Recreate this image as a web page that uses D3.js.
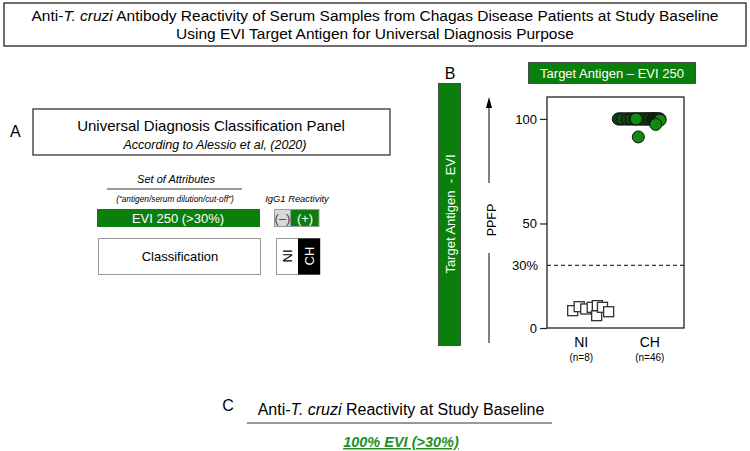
<!DOCTYPE html>
<html>
<head>
<meta charset="utf-8">
<script src="https://cdn.jsdelivr.net/npm/d3@7"></script>
<style>
  body { margin: 0; background: #fff; }
  svg { display: block; font-family: "Liberation Sans", Arial, sans-serif; }
  text { white-space: pre; }
</style>
</head>
<body>
<div id="chart"></div>
<script>
const categories = ["NI", "CH"];
const groupSizes = ["(n=8)", "(n=46)"];
const yTicks = [0, 50, 100];
const cutOff = 30;

// NI (non infected) – PPFP values and horizontal scatter (offset from category centre)
const niValues = [8.3, 10.2, 9.1, 9.9, 5.9, 10.7, 9.9, 7.8];
const niOffsets = [-0.125, -0.03, 0.065, 0.16, 0.225, 0.235, 0.31, 0.40];

// CH (Chagas) – PPFP values and scatter
const chValues = [
  100, 100, 100, 100, 100, 100, 100, 100, 100, 100, 100, 100, 100, 100, 100, 100,
  100, 100, 100, 100, 100, 100, 100, 100, 100, 100, 100, 100, 100, 100, 100, 100,
  100, 100, 99.6, 100, 99.8, 100, 99.5, 100, 99.7, 100, 99.4, 100, 91.4, 97.4
];
const chOffsets = [
  -0.46, -0.44, -0.42, -0.40, -0.38, -0.35, -0.33, -0.31, -0.29, -0.27, -0.25, -0.23,
  -0.21, -0.19, -0.17, -0.15, -0.14, -0.12, -0.10, -0.09, -0.07, -0.06, -0.04, -0.03,
  -0.01, 0.00, 0.01, 0.03, 0.04, 0.05, 0.06, 0.07, 0.08, 0.09, 0.10, 0.11,
  0.12, 0.12, 0.13, 0.14, 0.14, 0.15, 0.15, -0.20, -0.167, 0.087
];

const titleLines = [
  [["Anti-", "normal"], ["T. cruzi", "italic"], [" Antibody Reactivity of Serum Samples from Chagas Disease Patients at Study Baseline", "normal"]],
  [["Using EVI Target Antigen for Universal Diagnosis Purpose", "normal"]]
];

const green = "#0b7f0b";
const W = 750, H = 451;

const svg = d3.select("#chart").append("svg")
  .attr("width", W)
  .attr("height", H)
  .attr("viewBox", `0 0 ${W} ${H}`);

// helper for mixed italic text
function richText(g, x, y, parts, size, anchor) {
  const t = g.append("text")
    .attr("x", x).attr("y", y)
    .attr("font-size", size)
    .attr("text-anchor", anchor || "middle");
  parts.forEach(([s, st]) => t.append("tspan").attr("font-style", st).text(s));
  return t;
}

// ---- main title ----
svg.append("rect")
  .attr("x", 4).attr("y", 3).attr("width", 742).attr("height", 43)
  .attr("fill", "#fff").attr("stroke", "#222").attr("stroke-width", 1.3);
titleLines.forEach((line, i) => richText(svg, 375, 20.5 + i * 18, line, 15.5));

// ---- panel A ----
const a = svg.append("g");
a.append("text").attr("x", 10).attr("y", 137).attr("font-size", 16).text("A");
a.append("rect")
  .attr("x", 33).attr("y", 109).attr("width", 357).attr("height", 46)
  .attr("fill", "#fff").attr("stroke", "#333").attr("stroke-width", 1.3);
a.append("text").attr("x", 211).attr("y", 131).attr("font-size", 15)
  .attr("text-anchor", "middle").text("Universal Diagnosis Classification Panel");
a.append("text").attr("x", 215).attr("y", 149).attr("font-size", 12.5)
  .attr("font-style", "italic").attr("text-anchor", "middle")
  .text("According to Alessio et al, (2020)");

a.append("text").attr("x", 176).attr("y", 183).attr("font-size", 11)
  .attr("font-style", "italic").attr("text-anchor", "middle").text("Set of Attributes");
a.append("line").attr("x1", 107).attr("x2", 242).attr("y1", 189).attr("y2", 189)
  .attr("stroke", "#333");
a.append("text").attr("x", 175).attr("y", 202).attr("font-size", 8.3)
  .attr("font-style", "italic").attr("text-anchor", "middle")
  .text("(\u201Cantigen/serum dilution/cut-off\u201D)");
a.append("text").attr("x", 297).attr("y", 202).attr("font-size", 9.4)
  .attr("font-style", "italic").attr("text-anchor", "middle").text("IgG1 Reactivity");

a.append("rect").attr("x", 97).attr("y", 209).attr("width", 163).attr("height", 18)
  .attr("fill", green);
a.append("text").attr("x", 178).attr("y", 223).attr("font-size", 13)
  .attr("fill", "#fff").attr("text-anchor", "middle").text("EVI 250 (>30%)");

a.append("rect").attr("x", 274.5).attr("y", 209.5).attr("width", 16).attr("height", 17)
  .attr("fill", "#d9d9d9").attr("stroke", "#999");
a.append("text").attr("x", 282.5).attr("y", 223).attr("font-size", 13)
  .attr("fill", "#444").attr("text-anchor", "middle").text("(\u2013)");
a.append("rect").attr("x", 290.5).attr("y", 209.5).attr("width", 28.5).attr("height", 17)
  .attr("fill", green).attr("stroke", "#999");
a.append("text").attr("x", 305).attr("y", 223).attr("font-size", 13)
  .attr("fill", "#fff").attr("text-anchor", "middle").text("(+)");

a.append("rect").attr("x", 98.5).attr("y", 238.5).attr("width", 162).attr("height", 36)
  .attr("fill", "#fff").attr("stroke", "#999");
a.append("text").attr("x", 180).attr("y", 261).attr("font-size", 13)
  .attr("text-anchor", "middle").text("Classification");

a.append("rect").attr("x", 276.5).attr("y", 238.5).attr("width", 43.5).attr("height", 36)
  .attr("fill", "#fff").attr("stroke", "#999");
a.append("rect").attr("x", 298).attr("y", 238.5).attr("width", 22).attr("height", 36)
  .attr("fill", "#000");
[["NI", 287, "#000"], ["CH", 309, "#fff"]].forEach(([s, x, c]) => {
  a.append("text")
    .attr("transform", `translate(${x},256) rotate(-90)`)
    .attr("font-size", 13).attr("fill", c)
    .attr("text-anchor", "middle").attr("dy", "0.35em").text(s);
});

// ---- panel B ----
const b = svg.append("g");
b.append("text").attr("x", 450).attr("y", 79).attr("font-size", 16)
  .attr("text-anchor", "middle").text("B");
b.append("rect").attr("x", 438.5).attr("y", 83.5).attr("width", 22).attr("height", 262)
  .attr("fill", green).attr("stroke", "#333").attr("stroke-width", 0.8);
b.append("text")
  .attr("transform", "translate(450,214) rotate(-90)")
  .attr("font-size", 13).attr("fill", "#fff")
  .attr("text-anchor", "middle").attr("dy", "0.35em").text("Target Antigen  - EVI");

b.append("rect").attr("x", 528.5).attr("y", 62.5).attr("width", 167).attr("height", 21)
  .attr("fill", green).attr("stroke", "#333").attr("stroke-width", 0.8);
b.append("text").attr("x", 612).attr("y", 78).attr("font-size", 13)
  .attr("fill", "#fff").attr("text-anchor", "middle").text("Target Antigen \u2013 EVI 250");

// PPFP arrow
b.append("line").attr("x1", 489).attr("x2", 489).attr("y1", 183).attr("y2", 100)
  .attr("stroke", "#000").attr("stroke-width", 1);
b.append("path").attr("d", "M486,108 L489,97 L492,108 Z").attr("fill", "#000");
b.append("line").attr("x1", 489).attr("x2", 489).attr("y1", 253).attr("y2", 343)
  .attr("stroke", "#000").attr("stroke-width", 1);
b.append("text")
  .attr("transform", "translate(492,220) rotate(-90)")
  .attr("font-size", 12.5).attr("text-anchor", "middle")
  .attr("dy", "0.35em").text("PPFP");

// scatter plot
const plot = { left: 547, right: 684, top: 97, bottom: 328 };
const x = d3.scaleLinear().domain([0.5, 2.5]).range([plot.left, plot.right]);
const y = d3.scaleLinear().domain([0, 110.5]).range([plot.bottom, plot.top]);

b.append("rect")
  .attr("x", plot.left).attr("y", plot.top)
  .attr("width", plot.right - plot.left).attr("height", plot.bottom - plot.top)
  .attr("fill", "none").attr("stroke", "#222").attr("stroke-width", 1.3);

const yAxis = b.append("g")
  .attr("transform", `translate(${plot.left},0)`)
  .call(d3.axisLeft(y).tickValues(yTicks).tickSize(7).tickPadding(3));
yAxis.select(".domain").remove();
yAxis.selectAll("text").attr("font-size", 13).attr("font-family", null).attr("fill", "#000");
yAxis.selectAll("line").attr("stroke", "#222").attr("stroke-width", 1.2);

b.append("text").attr("x", 538).attr("y", y(cutOff)).attr("dy", "0.35em")
  .attr("font-size", 13).attr("text-anchor", "end").text(`${cutOff}%`);
b.append("line")
  .attr("x1", plot.left).attr("x2", plot.right)
  .attr("y1", y(cutOff)).attr("y2", y(cutOff))
  .attr("stroke", "#000").attr("stroke-dasharray", "4,3");

categories.forEach((c, i) => {
  b.append("text").attr("x", x(i + 1)).attr("y", 347).attr("font-size", 14)
    .attr("text-anchor", "middle").text(c);
  b.append("text").attr("x", x(i + 1)).attr("y", 361).attr("font-size", 10)
    .attr("text-anchor", "middle").text(groupSizes[i]);
});

const sq = 10;
b.append("g").selectAll("rect")
  .data(niValues.map((v, i) => ({ v, o: niOffsets[i] })))
  .join("rect")
  .attr("x", (d) => x(1 + d.o) - sq / 2)
  .attr("y", (d) => y(d.v) - sq / 2)
  .attr("width", sq).attr("height", sq)
  .attr("fill", "#fff").attr("stroke", "#333").attr("stroke-width", 1.3);

b.append("g").selectAll("circle")
  .data(chValues.map((v, i) => ({ v, o: chOffsets[i] })))
  .join("circle")
  .attr("cx", (d) => x(2 + d.o))
  .attr("cy", (d) => y(d.v))
  .attr("r", 6)
  .attr("fill", "#128a12").attr("stroke", "#111").attr("stroke-width", 1);

// ---- panel C ----
const c = svg.append("g");
c.append("text").attr("x", 228).attr("y", 411).attr("font-size", 16)
  .attr("text-anchor", "middle").text("C");
richText(c, 401, 415, [["Anti-", "normal"], ["T. cruzi", "italic"], [" Reactivity at Study Baseline", "normal"]], 16);
c.append("line").attr("x1", 247).attr("x2", 552).attr("y1", 423).attr("y2", 423)
  .attr("stroke", "#333").attr("stroke-width", 1);
c.append("text").attr("x", 401).attr("y", 447).attr("font-size", 14.5)
  .attr("font-weight", "bold").attr("font-style", "italic")
  .attr("text-decoration", "underline").attr("fill", "#1f8f1f")
  .attr("text-anchor", "middle").text("100% EVI (>30%)");
</script>
</body>
</html>
